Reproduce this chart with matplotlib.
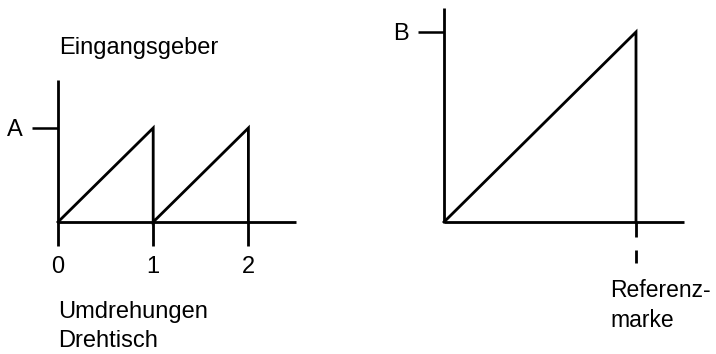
import matplotlib
matplotlib.use("Agg")
import matplotlib.pyplot as plt

plt.rcParams['font.family'] = ['Liberation Sans', 'DejaVu Sans']

# Data
revolutions = [0, 1, 1, 2, 2]
encoder_signal = [0, 1, 0, 1, 0]
rev_ticks = [0, 1, 2]
rev_tick_labels = ["0", "1", "2"]

ref_position = [0, 1, 1]
ref_signal = [0, 1, 0]
ref_mark = 1

W, H = 716, 354
DPI = 100
PX = 72.0 / DPI  # points per pixel
LW = 2.8 * PX

fig = plt.figure(figsize=(W / DPI, H / DPI), dpi=DPI)


def ax_rect(x0, x1, ytop, ybot):
    return [x0 / W, (H - ybot) / H, (x1 - x0) / W, (ybot - ytop) / H]


def style(ax):
    ax.set_facecolor('none')
    for s in ('top', 'right'):
        ax.spines[s].set_visible(False)
    for s in ('left', 'bottom'):
        ax.spines[s].set_linewidth(LW)
        ax.spines[s].set_capstyle('butt')


# Left panel
ax1 = fig.add_axes(ax_rect(58, 296, 80, 222))
style(ax1)
ax1.plot(revolutions, encoder_signal, color='black', lw=LW, clip_on=False,
         solid_joinstyle='miter')
ax1.set_xlim(0, 2.5)
ax1.set_ylim(0, 142 / 94)
ax1.set_xticks(rev_ticks)
ax1.set_xticklabels(rev_tick_labels, fontsize=17)
ax1.set_yticks([1])
ax1.set_yticklabels(["A"], fontsize=17)
ax1.tick_params(axis='x', direction='out', length=24 * PX, width=LW, pad=10 * PX)
ax1.tick_params(axis='y', direction='out', length=26 * PX, width=LW * 0.9, pad=9 * PX)

# Right panel
ax2 = fig.add_axes(ax_rect(444, 684, 8, 222))
style(ax2)
ax2.plot(ref_position, ref_signal, color='black', lw=LW, clip_on=False,
         solid_joinstyle='miter')
ax2.set_xlim(0, 240 / 192)
ax2.set_ylim(0, 214 / 190)
ax2.set_xticks([ref_mark])
ax2.set_xticklabels([""])
ax2.set_yticks([1])
ax2.set_yticklabels(["B"], fontsize=17)
ax2.tick_params(axis='x', direction='out', length=15 * PX, width=LW)
ax2.tick_params(axis='y', direction='out', length=26 * PX, width=LW * 0.9, pad=9 * PX)
# dashed continuation of the reference mark
ax2.plot([ref_mark, ref_mark], [-28 / 190, -41 / 190], color='black', lw=LW,
         clip_on=False, solid_capstyle='butt')

# Texts
fig.text(59 / W, 1 - 48 / H, "Eingangsgeber", fontsize=17, va='center', ha='left')
fig.text(58 / W, 1 - 301 / H, "Umdrehungen\nDrehtisch", fontsize=17, va='top',
         ha='left', linespacing=1.4)
fig.text(610 / W, 1 - 279 / H, "Referenz-\nmarke", fontsize=16.5, va='top',
         ha='left', linespacing=1.4)

fig.savefig("out.png", dpi=DPI)
